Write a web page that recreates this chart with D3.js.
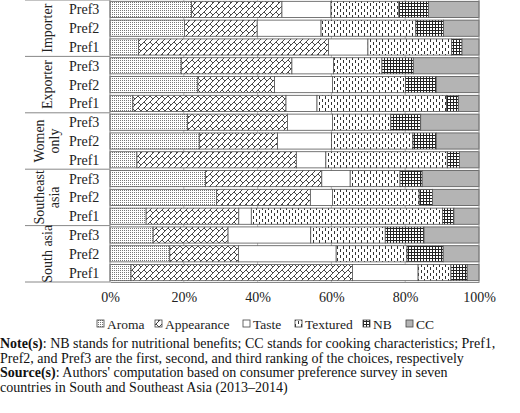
<!DOCTYPE html>
<html><head><meta charset="utf-8">
<script src="https://cdn.jsdelivr.net/npm/d3@7"></script>
<style>body{margin:0;background:#fff}text{font-family:"Liberation Serif",Tinos,"Times New Roman",Times,serif !important}</style>
</head><body><svg id="c" width="520" height="413"></svg>
<script>
const groups = ["Importer","Exporter","Women only","Southeast asia","South asia"];
const prefs = ["Pref3","Pref2","Pref1"];
const series = ["Aroma","Appearance","Taste","Textured","NB","CC"];
// cumulative boundaries (%) per row, top to bottom; last is 100
const cumulative = [
 [22.1,46.6,59.9,78.3,86.3,100],
 [20.2,39.9,57.2,82.9,90.4,100],
 [7.7,59.2,69.9,92.6,95.4,100],
 [19.3,49.3,60.6,73.7,82.2,100],
 [23.8,44.6,60.3,80.1,88.4,100],
 [6.2,47.7,56.1,91.2,94.4,100],
 [21.0,48.1,60.3,76.1,84.2,100],
 [24.2,45.4,60.0,82.1,88.4,100],
 [7.3,50.5,58.5,91.4,94.7,100],
 [25.9,57.4,65.1,78.6,84.6,100],
 [28.9,54.3,60.3,83.8,87.4,100],
 [9.8,34.9,38.3,90.1,93.2,100],
 [11.7,32.0,54.4,74.6,85.1,100],
 [16.2,34.8,61.3,80.5,90.3,100],
 [5.7,65.7,83.5,92.4,96.8,100]
];
const tickLabels = ["0%","20%","40%","60%","80%","100%"];

const svg = d3.select("#c");
const defs = svg.append("defs");
function pat(id, w, h, draw){ const p=defs.append("pattern").attr("id",id).attr("patternUnits","userSpaceOnUse").attr("width",w).attr("height",h); p.append("rect").attr("width",w).attr("height",h).attr("fill","#fff"); draw(p); }
pat("p0",2,2,p=>{p.append("rect").attr("width",1).attr("height",1).attr("fill","#777");});
pat("p1",6,6,p=>{p.append("path").attr("d","M0,6L6,0M-1,1L1,-1M5,7L7,5").attr("stroke","#333").attr("stroke-width",0.9);p.append("path").attr("d","M0,0L3,3").attr("stroke","#333").attr("stroke-width",0.9);});
pat("p2",4,4,p=>{});
pat("p3",6,6,p=>{p.append("rect").attr("x",1).attr("y",0).attr("width",1).attr("height",3).attr("fill","#333");p.append("rect").attr("x",4).attr("y",3).attr("width",1).attr("height",3).attr("fill","#333");});
pat("p4",3,3,p=>{p.append("path").attr("d","M0,0.5H3M0.5,0V3").attr("stroke","#222").attr("stroke-width",1);});
pat("p5",4,4,p=>{p.append("rect").attr("width",4).attr("height",4).attr("fill","#b4b4b4");});
const fills = series.map((s,i)=>"url(#p"+i+")");

const x = d3.scaleLinear().domain([0,100]).range([110,479]);
const rows = d3.range(15);
const y = d3.scaleBand().domain(rows).range([0,282]).paddingInner(0.14).paddingOuter(0.07);

svg.append("g").selectAll("line").data([20,40,60,80]).join("line")
 .attr("x1",d=>x(d)).attr("x2",d=>x(d)).attr("y1",0).attr("y2",282).attr("stroke","#aaa").attr("stroke-width",0.8);

const segs=[];
cumulative.forEach((r,ri)=>r.forEach((v,si)=>segs.push({ri,si,x0:si?r[si-1]:0,x1:v})));
svg.append("g").selectAll("rect").data(segs).join("rect")
 .attr("x",d=>x(d.x0)).attr("width",d=>x(d.x1)-x(d.x0))
 .attr("y",d=>y(d.ri)).attr("height",y.bandwidth())
 .attr("fill",d=>fills[d.si]).attr("stroke","#555").attr("stroke-width",0.8);

svg.append("line").attr("x1",110).attr("x2",110).attr("y1",0).attr("y2",282).attr("stroke","#888");
svg.append("line").attr("x1",479).attr("x2",479).attr("y1",0).attr("y2",282).attr("stroke","#888");
const ax = d3.axisBottom(x).tickValues([0,20,40,60,80,100]).tickFormat((d,i)=>tickLabels[i]).tickSize(0).tickPadding(10);
const gax = svg.append("g").attr("transform","translate(0,282)").call(ax);
gax.attr("font-family",null);
gax.select(".domain").attr("stroke","#888");
gax.selectAll("text").attr("font-size",14).attr("fill","#222");

svg.append("g").selectAll("text").data(rows).join("text")
 .attr("x",69).attr("y",r=>y(r)+y.bandwidth()/2+5).attr("font-size",14).attr("fill","#222").text(r=>prefs[r%3]);
const step = 282/5;
for(let g=0; g<=5; g++){
  svg.append("line").attr("x1",25).attr("x2",110).attr("y1",g*step).attr("y2",g*step).attr("stroke","#888");
}
groups.forEach((gname,g)=>{
  const cy = g*step+step/2;
  const parts = gname==="Women only"?["Women","only"]:gname==="Southeast asia"?["Southeast","asia"]:[gname];
  const t = svg.append("text").attr("transform",`translate(${parts.length>1?44:52},${cy}) rotate(-90)`).attr("text-anchor","middle").attr("font-size",14).attr("fill","#222");
  parts.forEach((p,i)=>t.append("tspan").attr("x",0).attr("dy",i?15:0).text(p));
});

const lg = svg.append("g");
const lx = [97,155,243,295,363,406];
series.forEach((s,i)=>{
  lg.append("rect").attr("x",lx[i]).attr("y",320).attr("width",7).attr("height",7).attr("fill",fills[i]).attr("stroke","#444").attr("stroke-width",0.8);
  lg.append("text").attr("x",lx[i]+10).attr("y",329).attr("font-size",13.5).attr("fill","#222").text(s);
});

const notes = [
 [["Note(s)",true],[": NB stands for nutritional benefits; CC stands for cooking characteristics; Pref1,",false]],
 [["Pref2, and Pref3 are the first, second, and third ranking of the choices, respectively",false]],
 [["Source(s)",true],[": Authors' computation based on consumer preference survey in seven",false]],
 [["countries in South and Southeast Asia (2013–2014)",false]]
];
notes.forEach((ln,i)=>{
  const t = svg.append("text").attr("x",0).attr("y",348+i*14.7).attr("font-size",14).attr("fill","#111");
  ln.forEach(([s,b])=>t.append("tspan").attr("font-weight",b?"bold":null).text(s));
});
</script></body></html>
